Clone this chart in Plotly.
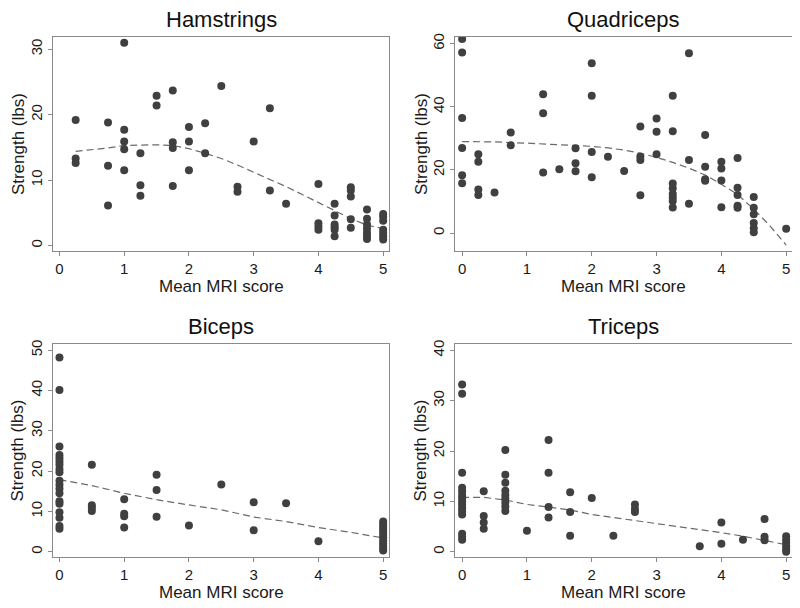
import plotly.graph_objects as go

# ---------------- data ----------------
ham_x = [0.25]*3 + [0.75]*3 + [1]*5 + [1.25]*3 + [1.5]*2 + [1.75]*4 + [2]*3 + [2.25]*2 + [2.5] + [2.75]*2 + [3] + [3.25]*2 + [3.5] + [4]*4 + [4.25]*6 + [4.5]*5 + [4.75]*7 + [5]*7
ham_y = [19.2, 13.3, 12.6,
         18.8, 12.2, 6.1,
         31.0, 17.7, 15.9, 14.7, 11.5,
         14.1, 9.2, 7.6,
         22.9, 21.4,
         23.7, 15.8, 14.9, 9.1,
         18.1, 15.9, 11.5,
         18.7, 14.1,
         24.4,
         9.0, 8.2,
         15.9,
         21.0, 8.4,
         6.4,
         9.4, 3.4, 2.9, 2.4,
         6.4, 4.6, 3.2, 2.8, 2.4, 1.4,
         8.9, 8.4, 7.5, 4.0, 2.7,
         5.5, 4.1, 3.2, 2.6, 2.0, 1.5, 1.0,
         4.8, 4.4, 3.8, 2.4, 1.9, 1.4, 0.9]
ham_fit_x = [0.25, 0.75, 1, 1.25, 1.5, 1.75, 2, 2.25, 2.5, 2.75, 3, 3.25, 3.5, 3.75, 4, 4.25, 4.5, 4.75, 5]
ham_fit_y = [14.4, 14.9, 15.3, 15.4, 15.4, 15.3, 14.8, 14.1, 13.3, 12.3, 11.2, 10.2, 9.0, 7.8, 6.6, 5.4, 4.1, 3.1, 2.6]

quad_x = [0]*6 + [0.25]*4 + [0.5] + [0.75]*2 + [1.25]*3 + [1.5] + [1.75]*3 + [2]*4 + [2.25] + [2.5] + [2.75]*4 + [3]*3 + [3.25]*8 + [3.5]*3 + [3.75]*4 + [4]*4 + [4.25]*5 + [4.5]*6 + [5]
quad_y = [61.5, 57.2, 36.5, 27.0, 18.3, 15.8,
          25.0, 22.6, 13.8, 12.1,
          12.9,
          31.9, 27.8,
          44.0, 38.0, 19.2,
          20.2,
          26.9, 22.1, 19.6,
          53.8, 43.5, 25.7, 17.7,
          24.2,
          19.7,
          33.8, 24.3, 23.2, 12.0,
          36.3, 32.1, 25.0,
          43.5, 32.3, 15.7, 14.2, 12.4, 11.3, 10.2, 8.1,
          57.0, 23.2, 9.3,
          31.1, 21.0, 17.1, 16.6,
          22.6, 20.5, 16.7, 8.2,
          23.8, 14.4, 12.1, 8.7, 8.0,
          11.4, 8.0, 6.0, 3.2, 1.5, 0.3,
          1.4]
quad_fit_x = [0, 0.5, 1, 1.5, 2, 2.25, 2.5, 2.75, 3, 3.25, 3.5, 3.75, 4, 4.25, 4.5, 4.75, 5]
quad_fit_y = [29.0, 28.9, 28.5, 28.0, 27.5, 27.0, 26.3, 25.3, 24.0, 22.4, 20.6, 18.4, 15.5, 12.2, 7.6, 2.3, -3.8]

bic_x = [0]*19 + [0.5]*4 + [1]*4 + [1.5]*3 + [2] + [2.5] + [3]*2 + [3.5] + [4] + [5]*12
bic_y = [48.2, 40.1, 26.1, 24.0, 23.2, 22.4, 21.6, 20.5, 19.7, 17.6, 16.6, 15.6, 14.5, 12.5, 11.9, 9.8, 8.4, 6.4, 5.7,
         21.6, 11.5, 10.9, 10.1,
         13.0, 9.4, 8.8, 6.0,
         19.1, 15.3, 8.7,
         6.5,
         16.7,
         12.3, 5.3,
         12.0,
         2.6,
         7.5, 6.9, 6.2, 5.6, 4.9, 4.2, 3.5, 2.8, 2.1, 1.4, 0.8, 0.3]
bic_fit_x = [0, 0.5, 1, 1.5, 2, 2.5, 3, 3.5, 4, 4.5, 5]
bic_fit_y = [17.9, 16.4, 14.5, 12.9, 11.6, 10.4, 8.6, 7.5, 6.0, 4.8, 3.4]

tri_x = [0]*15 + [1/3]*4 + [2/3]*9 + [1] + [4/3]*4 + [5/3]*3 + [2] + [7/3] + [8/3]*3 + [11/3] + [4]*2 + [13/3] + [14/3]*3 + [5]*6
tri_y = [33.2, 31.4, 15.7, 12.7, 12.0, 11.3, 10.7, 10.0, 9.4, 8.7, 8.1, 7.4, 3.6, 3.0, 2.4,
         12.0, 7.1, 5.8, 4.6,
         20.2, 15.3, 13.7, 12.1, 11.3, 10.6, 9.8, 9.0, 8.1,
         4.2,
         22.2, 15.7, 8.9, 6.8,
         11.8, 7.9, 3.2,
         10.7,
         3.2,
         9.4, 8.5, 7.9,
         1.1,
         5.8, 1.6,
         2.4,
         6.5, 3.0, 2.3,
         3.1, 2.4, 1.8, 1.1, 0.5, 0.0]
tri_fit_x = [0, 1/3, 2/3, 1, 4/3, 5/3, 2, 7/3, 8/3, 3, 10/3, 11/3, 4, 13/3, 14/3, 5]
tri_fit_y = [10.8, 10.8, 10.3, 9.4, 8.9, 8.3, 7.4, 6.8, 6.2, 5.7, 5.1, 4.5, 3.8, 3.1, 2.3, 1.4]

titles = ["Hamstrings", "Quadriceps", "Biceps", "Triceps"]
x_title = "Mean MRI score"
y_title = "Strength (lbs)"
x_ticks = [0, 1, 2, 3, 4, 5]
y_ticks = [[0, 10, 20, 30], [0, 20, 40, 60], [0, 10, 20, 30, 40, 50], [0, 10, 20, 30, 40]]

# ---------------- figure ----------------
# page body has an 8px margin, so the figure is 792x600 and drawn at (8, 8)
OFF = 8
W, H = 800 - OFF, 608 - OFF
FONT = "Liberation Sans, Arial, sans-serif"
MARK = "#404040"
LINE = "#6a6a6a"
FRAME = "#8a8a8a"
TXT = "#1a1a1a"


def px(X):
    return (X - OFF) / W


def py(Y):
    return 1 - (Y - OFF) / H


# plot areas in window pixels: (left, right, top, bottom)
boxes = [(53, 389, 33, 249), (455, 792, 33, 249), (53, 389, 342, 557), (455, 792, 342, 557)]
x_ranges = [[-0.10, 5.09], [-0.11, 5.09], [-0.10, 5.09], [-0.11, 5.09]]
y_ranges = [[-0.9, 31.9], [-5.8, 62.2], [-1.4, 51.6], [-1.1, 41.3]]
ytitle_x = [18, 421, 18, 421]

data = [(ham_x, ham_y, ham_fit_x, ham_fit_y),
        (quad_x, quad_y, quad_fit_x, quad_fit_y),
        (bic_x, bic_y, bic_fit_x, bic_fit_y),
        (tri_x, tri_y, tri_fit_x, tri_fit_y)]

fig = go.Figure()
layout = dict(width=W, height=H, margin=dict(l=0, r=0, t=0, b=0),
              paper_bgcolor="white", plot_bgcolor="white", showlegend=False,
              font=dict(family=FONT, color=TXT))
annotations = []
for i, (ptx, pty, fx, fy) in enumerate(data):
    n = "" if i == 0 else str(i + 1)
    l, r, t, b = boxes[i]
    fig.add_trace(go.Scatter(x=fx, y=fy, mode="lines", xaxis="x" + n, yaxis="y" + n,
                             line=dict(color=LINE, width=1.2, dash="7px,4px"), hoverinfo="skip"))
    fig.add_trace(go.Scatter(x=ptx, y=pty, mode="markers", xaxis="x" + n, yaxis="y" + n,
                             marker=dict(color=MARK, size=8, line=dict(width=0))))
    layout["xaxis" + n] = dict(domain=[px(l), px(r)], anchor="y" + n, range=x_ranges[i],
                               tickvals=x_ticks, ticks="outside", ticklen=4, tickcolor=FRAME,
                               showline=True, linecolor=FRAME, linewidth=1, mirror=True,
                               showgrid=False, zeroline=False,
                               tickfont=dict(size=15, family=FONT, color=TXT))
    layout["yaxis" + n] = dict(domain=[py(b), py(t)], anchor="x" + n, range=y_ranges[i],
                               tickvals=y_ticks[i], ticks="outside", ticklen=4, tickcolor=FRAME,
                               showline=True, linecolor=FRAME, linewidth=1, mirror=True,
                               showgrid=False, zeroline=False, tickangle=-90,
                               tickfont=dict(size=15, family=FONT, color=TXT))
    annotations.append(dict(text=titles[i], x=px((l + r) / 2), y=py(t - 17),
                            xref="paper", yref="paper", xanchor="center", yanchor="middle",
                            showarrow=False, font=dict(size=22, family=FONT, color="#111111")))
    annotations.append(dict(text=x_title, x=px((l + r) / 2), y=py(b + 35),
                            xref="paper", yref="paper", xanchor="center", yanchor="middle",
                            showarrow=False, font=dict(size=17, family=FONT, color=TXT)))
    annotations.append(dict(text=y_title, x=px(ytitle_x[i]), y=py((t + b) / 2), textangle=-90,
                            xref="paper", yref="paper", xanchor="center", yanchor="middle",
                            showarrow=False, font=dict(size=17, family=FONT, color=TXT)))
layout["annotations"] = annotations
fig.update_layout(**layout)
fig.write_html("out.html")
